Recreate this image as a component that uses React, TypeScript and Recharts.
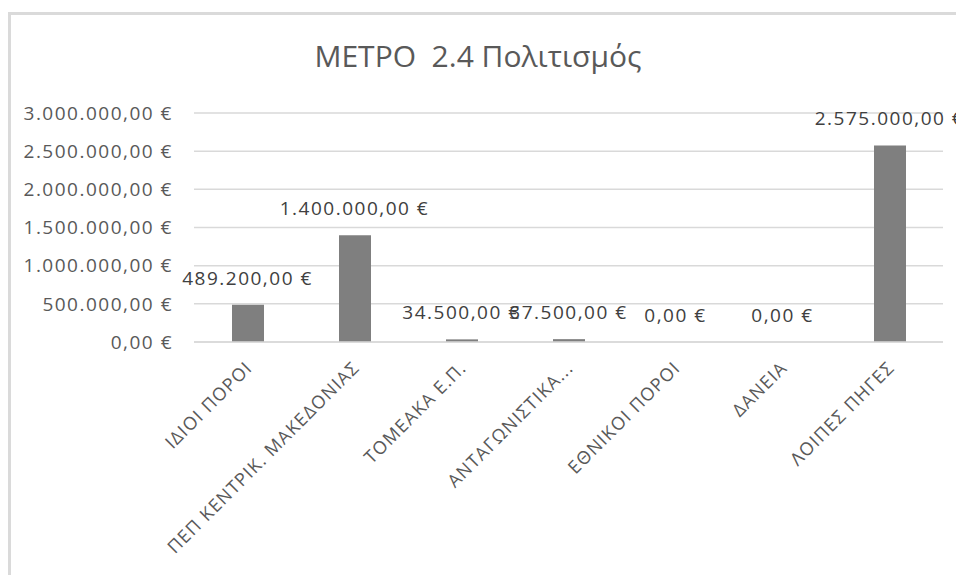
import {
  ComposedChart,
  Bar,
  Line,
  XAxis,
  YAxis,
  CartesianGrid,
  LabelList,
} from "recharts";

const categories = [
  "ΙΔΙΟΙ ΠΟΡΟΙ",
  "ΠΕΠ ΚΕΝΤΡΙΚ. ΜΑΚΕΔΟΝΙΑΣ",
  "ΤΟΜΕΑΚΑ Ε.Π.",
  "ΑΝΤΑΓΩΝΙΣΤΙΚΑ...",
  "ΕΘΝΙΚΟΙ ΠΟΡΟΙ",
  "ΔΑΝΕΙΑ",
  "ΛΟΙΠΕΣ ΠΗΓΕΣ",
];
const amounts = [489200, 1400000, 34500, 37500, 0, 0, 2575000];
const yTicks = [0, 500000, 1000000, 1500000, 2000000, 2500000, 3000000];

const FONT = "'Open Sans', 'Noto Sans', sans-serif";
const TEXT = "#595959";

function formatEuro(v: number): string {
  const intPart = Math.round(v)
    .toString()
    .replace(/\B(?=(\d{3})+(?!\d))/g, ".");
  return `${intPart},00 €`;
}

const data = categories.map((name, i) => ({ name, value: amounts[i] }));

function CategoryTick(props: any) {
  const { x, y, payload } = props;
  return (
    <g transform={`translate(${x},${y})`}>
      <text
        x={6}
        y={19}
        textAnchor="end"
        transform="rotate(-45 6 19)"
        fill={TEXT}
        fontSize={18}
        letterSpacing={1.2}
        fontFamily={FONT}
      >
        {payload.value}
      </text>
    </g>
  );
}

// labels sit on an invisible line so that zero values get one too
function ValueLabel(props: any) {
  const { x, y, value } = props;
  return (
    <text
      x={x}
      y={y - 20}
      textAnchor="middle"
      fill="#404040"
      fontSize={19}
      letterSpacing={1.5}
      fontFamily={FONT}
    >
      {formatEuro(value)}
    </text>
  );
}

export default function App() {
  return (
    <div
      style={{
        position: "relative",
        width: 964,
        height: 583,
        margin: -8,
        background: "#fff",
        overflow: "hidden",
      }}
    >
      <div
        style={{
          position: "absolute",
          left: 8,
          top: 12,
          right: -10,
          bottom: -10,
          borderTop: "3px solid #dadada",
          borderLeft: "3px solid #dadada",
        }}
      />
      <div
        style={{
          position: "absolute",
          left: -4,
          width: 964,
          top: 35,
          textAlign: "center",
          fontFamily: FONT,
          fontSize: 30,
          color: TEXT,
          whiteSpace: "pre",
        }}
      >
        {"ΜΕΤΡΟ  2.4 Πολιτισμός"}
      </div>
      <div style={{ position: "absolute", left: 0, top: 0 }}>
        <ComposedChart
          width={964}
          height={583}
          data={data}
          margin={{ top: 113, right: 21, bottom: 0, left: 0 }}
        >
          <CartesianGrid vertical={false} stroke="#d9d9d9" strokeWidth={1.5} />
          <XAxis
            dataKey="name"
            height={241}
            interval={0}
            tickLine={false}
            axisLine={{ stroke: "#d9d9d9", strokeWidth: 1.5 }}
            tick={<CategoryTick />}
          />
          <YAxis
            width={194}
            domain={[0, 3000000]}
            ticks={yTicks}
            tickFormatter={formatEuro}
            axisLine={false}
            tickLine={false}
            tickSize={0}
            tickMargin={21}
            tick={{
              fill: TEXT,
              fontSize: 19,
              fontFamily: FONT,
              letterSpacing: 1.5,
            }}
          />
          <Bar
            dataKey="value"
            fill="#7f7f7f"
            barSize={32}
            isAnimationActive={false}
          />
          <Line
            dataKey="value"
            stroke="none"
            dot={false}
            activeDot={false}
            legendType="none"
            isAnimationActive={false}
          >
            <LabelList dataKey="value" content={<ValueLabel />} />
          </Line>
        </ComposedChart>
      </div>
    </div>
  );
}
